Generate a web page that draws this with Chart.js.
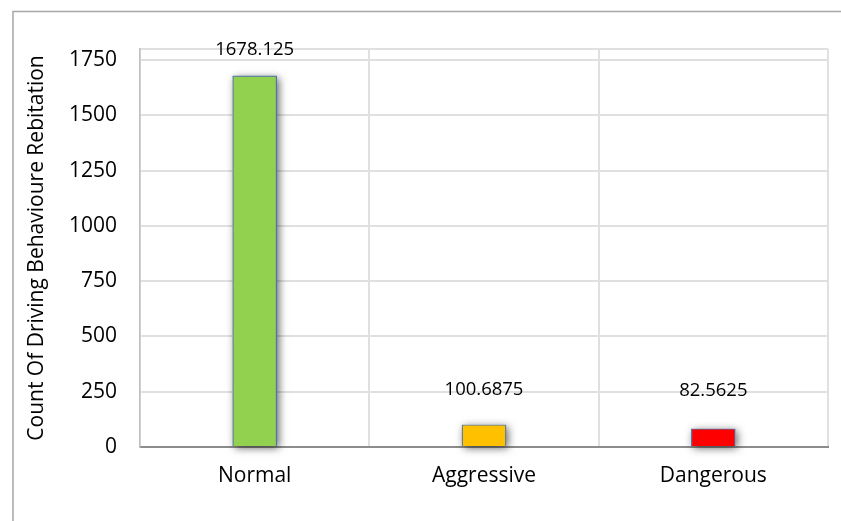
<!DOCTYPE html>
<html>
<head>
<meta charset="utf-8">
<script src="https://cdn.jsdelivr.net/npm/chart.js@4/dist/chart.umd.min.js"></script>
<style>
  html, body { margin: 0; padding: 0; background: #fff; }
  #wrap { width: 841px; height: 521px; position: relative; }
</style>
</head>
<body>
<div id="wrap"><canvas id="c" width="841" height="521"></canvas></div>
<script>
// Driving behaviour classes and their average counts
const categories = ['Normal', 'Aggressive', 'Dangerous'];
const counts = [1678.125, 100.6875, 82.5625];
const yTickValues = [0, 250, 500, 750, 1000, 1250, 1500, 1750];
const yAxisTitle = 'Count Of Driving Behavioure Rebitation';

const barColors = ['#92D050', '#FFC000', '#FF0000'];
const FONT = "'Open Sans', sans-serif";

// Soft drop shadow painted underneath each bar
const barShadow = {
  id: 'barShadow',
  beforeDatasetDraw(chart, args) {
    const ctx = chart.ctx;
    const meta = args.meta;
    ctx.save();
    ctx.shadowColor = 'rgba(0,0,0,0.6)';
    ctx.shadowBlur = 8;
    ctx.shadowOffsetX = 2;
    ctx.shadowOffsetY = 2;
    ctx.fillStyle = '#ffffff';
    meta.data.forEach(bar => {
      const p = bar.getProps(['x', 'y', 'base', 'width'], true);
      const top = Math.min(p.y, p.base);
      const h = Math.abs(p.base - p.y);
      ctx.fillRect(p.x - p.width / 2, top, p.width, h);
    });
    ctx.restore();
  }
};

// Outer frame and plot frame lines
const frames = {
  id: 'frames',
  beforeDraw(chart) {
    const ctx = chart.ctx;
    const a = chart.chartArea;
    ctx.save();
    ctx.strokeStyle = '#A6A6A6';
    ctx.lineWidth = 1.5;
    ctx.beginPath();
    ctx.moveTo(13, chart.height);
    ctx.lineTo(13, 11.5);
    ctx.lineTo(chart.width, 11.5);
    ctx.stroke();
    ctx.strokeStyle = '#E0E0E0';
    ctx.lineWidth = 2;
    ctx.beginPath();
    ctx.moveTo(a.left, a.top);
    ctx.lineTo(a.right, a.top);
    ctx.stroke();
    ctx.restore();
  }
};

// Value labels above each bar
const valueLabels = {
  id: 'valueLabels',
  afterDatasetsDraw(chart, args, opts) {
    const ctx = chart.ctx;
    const meta = chart.getDatasetMeta(0);
    ctx.save();
    ctx.font = opts.font;
    ctx.fillStyle = '#000';
    ctx.textAlign = 'center';
    ctx.textBaseline = 'middle';
    meta.data.forEach((bar, i) => {
      const lift = opts.lift[i];
      ctx.fillText(String(chart.data.datasets[0].data[i]), bar.x, bar.y - lift);
    });
    ctx.restore();
  }
};

new Chart(document.getElementById('c'), {
  type: 'bar',
  data: {
    labels: categories,
    datasets: [{
      data: counts,
      backgroundColor: barColors,
      borderColor: '#4F74A8',
      borderWidth: 1.2,
      barThickness: 44
    }]
  },
  options: {
    responsive: false,
    animation: false,
    layout: { padding: { left: 0, top: 49, right: 13, bottom: 0 } },
    plugins: {
      legend: { display: false },
      tooltip: { enabled: false },
      valueLabels: { font: "18.5px " + FONT, lift: [26, 35, 38] }
    },
    scales: {
      x: {
        afterFit(s) { s.height = 74; },
        grid: { color: '#E0E0E0', lineWidth: 2, drawTicks: false, offset: true },
        border: { color: '#8C8C8C', width: 2 },
        ticks: { color: '#000', padding: 16, font: { family: FONT, size: 21 } }
      },
      y: {
        min: 0,
        max: 1800,
        afterFit(s) { s.width = 140; },
        afterBuildTicks(s) { s.ticks = yTickValues.map(v => ({ value: v })); },
        grid: { color: '#E0E0E0', lineWidth: 2, drawTicks: false },
        border: { color: '#BFBFBF', width: 1.5 },
        ticks: {
          color: '#000',
          padding: 23,
          font: { family: FONT, size: 21 },
          callback: v => String(v)
        },
        title: {
          display: true,
          text: yAxisTitle,
          color: '#000',
          padding: { top: 24, bottom: 0 },
          font: { family: FONT, size: 21 }
        }
      }
    }
  },
  plugins: [frames, barShadow, valueLabels]
});
</script>
</body>
</html>
